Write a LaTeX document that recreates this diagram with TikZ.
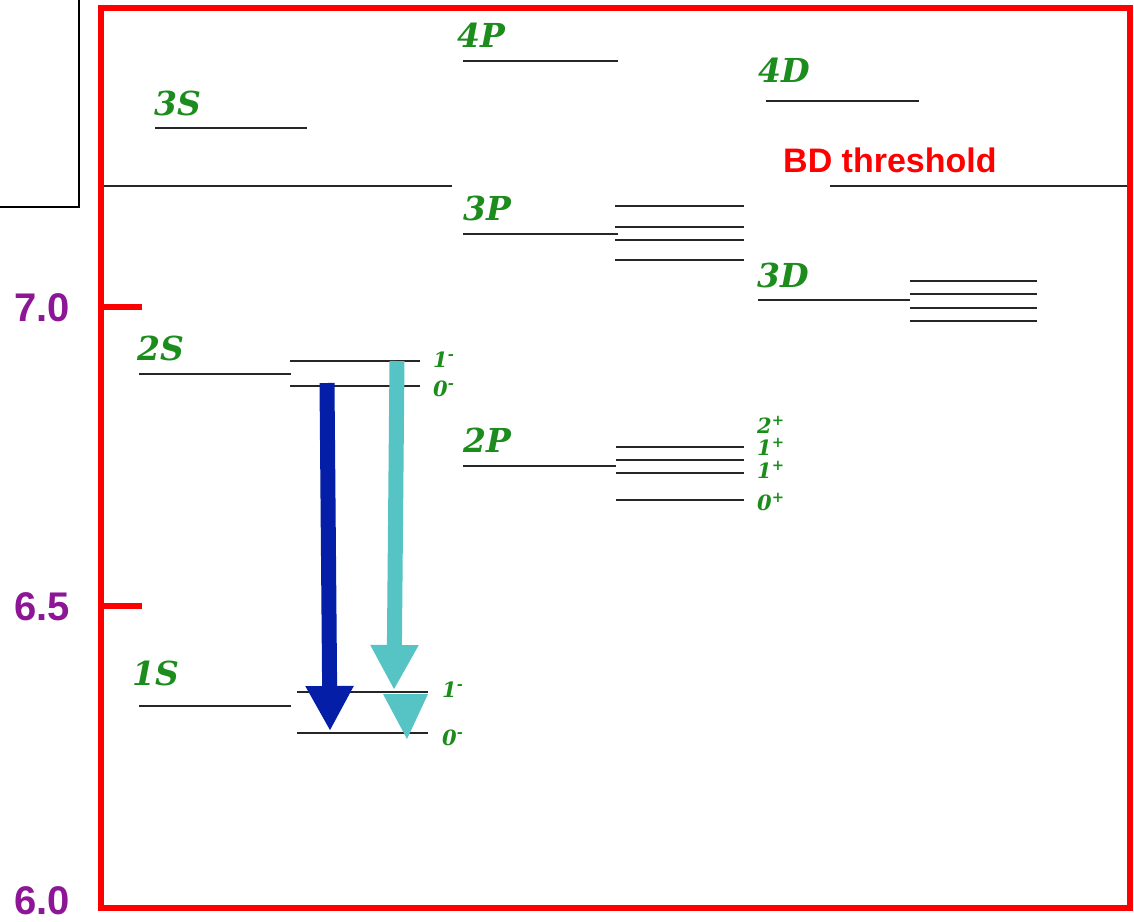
\documentclass[tikz,border=0pt]{standalone}
\usepackage{fontspec}
\usepackage{tikz}
\usetikzlibrary{arrows.meta}

\newfontfamily\statefont{DejaVu Serif}
\newfontfamily\labfont{Liberation Sans}
\definecolor{framered}{RGB}{255,0,0}
\definecolor{tickpurple}{RGB}{140,22,150}
\definecolor{stategreen}{RGB}{28,140,28}
\definecolor{darkdecay}{RGB}{5,30,168}
\definecolor{lightdecay}{RGB}{86,195,196}

\begin{document}
\begin{tikzpicture}[
        x=1pt,
        y=-1pt,
        level/.style={line width=2.2pt, black!85},
        frame/.style={line width=6pt, framered},
        state/.style={anchor=base west, inner sep=0pt, text=stategreen,
            font=\statefont\bfseries\itshape\fontsize{33}{33}\selectfont},
        spin/.style={anchor=base west, inner sep=0pt, text=stategreen,
            font=\statefont\bfseries\itshape\fontsize{21}{21}\selectfont},
        ytick/.style={anchor=base, inner sep=0pt, text depth=0pt, text=tickpurple,
            font=\labfont\bfseries\fontsize{40}{40}\selectfont},
        decay/.style={line width=15pt, -{Triangle[width=45pt,length=45pt]}},
        >=Latex
    ]
        \useasboundingbox (0,0) rectangle (1134,921);

        \draw[line width=2pt] (0,207) -- (79,207) -- (79,0);

        \draw[frame] (100.5,7.5) rectangle (1130,908);
        \foreach \y/\b/\lab in {307/321/7.0, 606/620/6.5, 908/914/6.0}{
            \draw[frame] (100.5,\y) -- (142,\y);
            \node[ytick] (tick\lab) at (42,\b) {\lab};
        }

        % gross levels
        \foreach \xa/\xb/\y in {155/307/128, 104/452/186, 463/618/61, 766/919/101,
                830/1127/186, 463/618/234, 758/910/300, 139/291/374, 463/616/466,
                139/291/706}{
            \draw[level] (\xa,\y) -- (\xb,\y);
        }
        % fine structure
        \foreach \y in {206,227,240,260}{\draw[level] (615,\y) -- (744,\y);}
        \foreach \y in {281,294,308,321}{\draw[level] (910,\y) -- (1037,\y);}
        \foreach \y in {447,460,473,500}{\draw[level] (616,\y) -- (744,\y);}
        \foreach \y in {361,386}{\draw[level] (290,\y) -- (420,\y);}
        \foreach \y in {692,733}{\draw[level] (297,\y) -- (428,\y);}

        \node[state] (s3S) at (154,115) {3S};
        \node[state] (s4P) at (457,47) {4P};
        \node[state] (s4D) at (758,82) {4D};
        \node[state] (s3P) at (463,220) {3P};
        \node[state] (s3D) at (757,287) {3D};
        \node[state] (s2S) at (137,360) {2S};
        \node[state] (s2P) at (463,452) {2P};
        \node[state] (s1S) at (132,685) {1S};

        \node[anchor=base west, inner sep=0pt, text=framered,
            font=\labfont\bfseries\fontsize{34}{34}\selectfont] (bd) at (783,172) {BD threshold};

        \node[spin] (j2Sa) at (433,367) {1\textsuperscript{-}};
        \node[spin] (j2Sb) at (433,396) {0\textsuperscript{-}};
        \node[spin] (j1Sa) at (442,697) {1\textsuperscript{-}};
        \node[spin] (j1Sb) at (442,745) {0\textsuperscript{-}};
        \node[spin] (j2Pa) at (757,433) {2\textsuperscript{+}};
        \node[spin] (j2Pb) at (757,455) {1\textsuperscript{+}};
        \node[spin] (j2Pc) at (757,478) {1\textsuperscript{+}};
        \node[spin] (j2Pd) at (757,510) {0\textsuperscript{+}};

        \coordinate (darkTop) at (327,383);
        \coordinate (darkEnd) at (330,731);
        \coordinate (lightTop) at (397,361);
        \coordinate (lightEnd) at (394,690);
        \draw[decay, darkdecay] (darkTop) -- (darkEnd);
        \draw[decay, lightdecay] (lightTop) -- (lightEnd);
        \fill[lightdecay] (383,694) -- (428,694) -- (407,739) -- cycle;
    \end{tikzpicture}
\end{document}
